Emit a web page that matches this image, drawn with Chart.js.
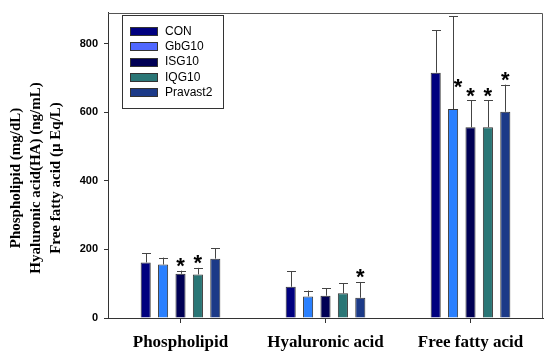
<!DOCTYPE html>
<html>
<head>
<meta charset="utf-8">
<script src="https://cdn.jsdelivr.net/npm/chart.js@4.4.1/dist/chart.umd.min.js"></script>
<style>
  html, body { margin: 0; padding: 0; background: #fff; }
  #wrap { width: 550px; height: 356px; position: relative; }
</style>
</head>
<body>
<div id="wrap"><canvas id="myChart"></canvas></div>
<script>
// categories and groups
const categories = ['Phospholipid', 'Hyaluronic acid', 'Free fatty acid'];
const groups = ['CON', 'GbG10', 'ISG10', 'IQG10', 'Pravast2'];

// means per group (Phospholipid, Hyaluronic acid, Free fatty acid)
const conVals = [162, 91, 715];
const gbgVals = [156, 63, 609];
const isgVals = [129, 65, 556];
const iqgVals = [127, 72, 556];
const pravVals = [173, 59, 601];

// upper end of error bars
const conErr = [189, 137, 838];
const gbgErr = [176, 80, 879];
const isgErr = [138, 86, 634];
const iqgErr = [146, 101, 634];
const pravErr = [203, 105, 680];

// significance marks (1 = asterisk)
const conSig = [0, 0, 0];
const gbgSig = [0, 0, 1];
const isgSig = [1, 0, 1];
const iqgSig = [1, 0, 1];
const pravSig = [0, 1, 1];

const yTicks = [0, 200, 400, 600, 800];
const yTitle = ['Phospholipid (mg/dL)', 'Hyaluronic acid(HA) (ng/mL)', 'Free fatty acid (\u00b5 Eq/L)'];

const colors = ['#00007f', '#2a80ff', '#000055', '#2a7676', '#1c3a88'];
const legendColors = ['#00007f', '#5068ff', '#000055', '#2a7676', '#1c3a88'];

const allVals = [conVals, gbgVals, isgVals, iqgVals, pravVals];
const allErr = [conErr, gbgErr, isgErr, iqgErr, pravErr];
const allSig = [conSig, gbgSig, isgSig, iqgSig, pravSig];

const datasets = groups.map((g, i) => ({
    label: g,
    data: allVals[i],
    err: allErr[i],
    sig: allSig[i],
    backgroundColor: colors[i],
    borderColor: '#333',
    borderWidth: 1,
    categoryPercentage: 0.6,
    barPercentage: 0.58
}));

// error bars, asterisks, frame, y title and legend
const extras = {
    id: 'extras',
    afterDatasetsDraw(chart) {
        const ctx = chart.ctx;
        const y = chart.scales.y;
        const area = chart.chartArea;
        ctx.save();
        chart.data.datasets.forEach((ds, di) => {
            const meta = chart.getDatasetMeta(di);
            meta.data.forEach((bar, j) => {
                const top = y.getPixelForValue(ds.err[j]);
                ctx.strokeStyle = '#444';
                ctx.lineWidth = 1;
                ctx.beginPath();
                ctx.moveTo(Math.round(bar.x) + 0.5, bar.y);
                ctx.lineTo(Math.round(bar.x) + 0.5, top);
                ctx.moveTo(Math.round(bar.x) - 4, Math.round(top) + 0.5);
                ctx.lineTo(Math.round(bar.x) + 5, Math.round(top) + 0.5);
                ctx.stroke();
                if (ds.sig[j]) {
                    let sy = top - 9;
                    let sx = bar.x;
                    if (sy < area.top + 20) { sy = bar.y - 26; sx = bar.x + 5; }
                    ctx.fillStyle = '#000';
                    ctx.font = 'bold 22px "Liberation Sans", Arial, sans-serif';
                    ctx.textAlign = 'center';
                    ctx.textBaseline = 'middle';
                    ctx.fillText('*', sx, sy + 5);
                }
            });
        });
        // top and right frame
        ctx.strokeStyle = '#555';
        ctx.lineWidth = 1;
        ctx.beginPath();
        ctx.moveTo(area.left, Math.round(area.top) + 0.5);
        ctx.lineTo(Math.round(area.right) - 0.5, Math.round(area.top) + 0.5);
        ctx.lineTo(Math.round(area.right) - 0.5, area.bottom);
        ctx.stroke();

        // y axis title, three rotated lines
        ctx.fillStyle = '#000';
        ctx.font = 'bold 15px "Liberation Serif", "Times New Roman", serif';
        ctx.textAlign = 'center';
        ctx.textBaseline = 'middle';
        yTitle.forEach((t, i) => {
            ctx.save();
            ctx.translate(16 + i * 20, 178);
            ctx.rotate(-Math.PI / 2);
            ctx.fillText(t, 0, 0);
            ctx.restore();
        });

        // legend box
        const lx = 122, ly = 15, lw = 101, lh = 93;
        ctx.fillStyle = '#fff';
        ctx.fillRect(lx, ly, lw, lh);
        ctx.strokeStyle = '#333';
        ctx.strokeRect(lx + 0.5, ly + 0.5, lw, lh);
        ctx.font = '12px "Liberation Sans", Arial, sans-serif';
        ctx.textAlign = 'left';
        ctx.textBaseline = 'middle';
        groups.forEach((g, i) => {
            const ry = 31 + i * 15.3;
            ctx.fillStyle = legendColors[i];
            ctx.fillRect(130, Math.round(ry - 4), 27, 8);
            ctx.strokeStyle = '#333';
            ctx.strokeRect(130.5, Math.round(ry - 4) + 0.5, 27, 8);
            ctx.fillStyle = '#000';
            ctx.fillText(g, 165, ry + 0.5);
        });
        ctx.restore();
    }
};

var ctx = document.getElementById('myChart').getContext('2d');
var myChart = new Chart(ctx, {
    type: 'bar',
    data: { labels: categories, datasets: datasets },
    options: {
        responsive: true,
        maintainAspectRatio: false,
        animation: false,
        layout: { padding: { left: 0, right: 7, top: 6, bottom: 0 } },
        plugins: { legend: { display: false }, tooltip: { enabled: false } },
        scales: {
            x: {
                grid: { display: true, drawOnChartArea: false, tickLength: 5, color: '#333', offset: false },
                border: { color: '#333', width: 1 },
                ticks: {
                    color: '#000',
                    font: { family: '"Liberation Serif", "Times New Roman", serif', size: 17, weight: 'bold' },
                    padding: 9
                },
                afterFit(scale) { scale.height = 38; }
            },
            y: {
                min: 0,
                max: 890,
                afterBuildTicks(scale) { scale.ticks = yTicks.map(v => ({ value: v })); },
                grid: { display: true, drawOnChartArea: false, tickLength: 4, color: '#333' },
                border: { color: '#333', width: 1 },
                ticks: {
                    color: '#000',
                    font: { family: '"Liberation Sans", Arial, sans-serif', size: 11, weight: 'bold' },
                    padding: 6
                },
                afterFit(scale) { scale.width = 108; }
            }
        }
    },
    plugins: [extras]
});
</script>
</body>
</html>
